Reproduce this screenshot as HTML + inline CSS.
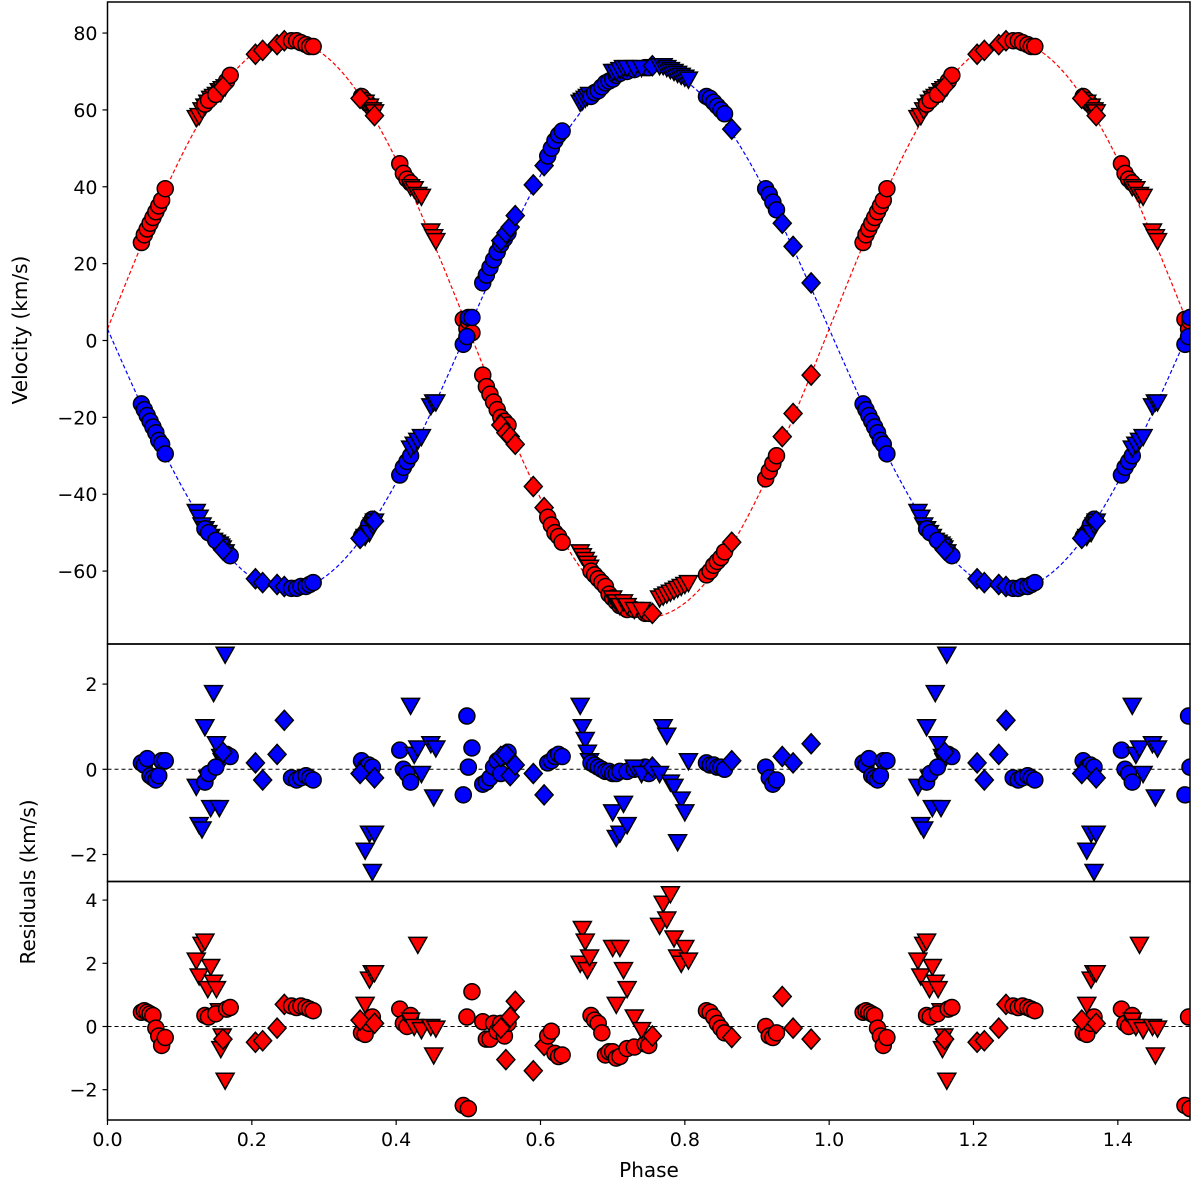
<!DOCTYPE html>
<html><head><meta charset="utf-8"><style>
html,body{margin:0;padding:0;background:#fff;}
svg{display:block;font-family:"DejaVu Sans","Liberation Sans",sans-serif;}
</style></head><body>
<svg id="chart" width="1200" height="1192" viewBox="0 0 1200 1192"></svg>
<script>
// ---- data ----
const markerKinds = ['circle','triangle','diamond'];
const redPhase = [0.047,0.051,0.055,0.059,0.063,0.067,0.071,0.075,0.08,
0.123,0.127,0.131,0.135,0.139,0.143,0.147,0.151,0.155,0.159,0.163,0.157,
0.135,0.14,0.15,0.165,0.17,
0.16,0.205,0.215,0.235,0.245,
0.255,0.262,0.268,0.275,0.28,0.285,
0.352,0.357,0.362,0.367,
0.357,0.363,0.367,0.37,
0.35,0.37,
0.405,0.41,0.415,0.42,
0.42,0.425,0.43,0.435,0.448,0.452,0.455,
0.493,0.498,0.5,0.505,
0.52,0.525,0.53,0.535,0.54,0.545,0.55,0.555,
0.545,0.552,0.558,0.565,0.59,0.605,
0.61,0.615,0.62,0.625,0.63,
0.655,0.658,0.662,0.665,0.668,
0.67,0.675,0.68,0.685,0.69,0.695,0.70,0.705,0.71,0.72,0.73,0.745,0.75,
0.7,0.705,0.71,0.715,0.72,0.73,0.74,
0.755,
0.765,0.77,0.775,0.78,0.785,0.79,0.795,0.80,0.805,
0.83,0.835,0.84,0.845,0.85,0.855,
0.865,
0.912,0.917,0.922,0.927,
0.935,0.95,0.975];
const redVel = [25.5,27.5,29,30.5,32,33.5,35,36.5,39.5,
58,58.5,60,61,62,63,63.5,64,65,65.5,66,64.5,
61.5,62.5,64,67.5,69,
66,74.5,75.5,77,78,
78,78,77.5,77,76.5,76.5,
63.5,62.5,61.5,60.5,
62,61,60,59.5,
63,58.5,
46,43.5,42,41,
40,39.5,38,37.5,28.5,27,26,
5.5,3,5,2,
-9,-12,-14,-16,-18,-20,-21,-22,
-22,-24,-25,-27,-38,-43.5,
-46,-48,-50,-51,-52.5,
-55,-56,-57,-58,-59,
-60,-61,-62,-63,-64,-66,-67,-68,-69,-70,-70,-71,-71,
-67,-68,-69,-68,-69,-70,-70,
-71,
-67,-66.5,-66,-65.5,-65,-64.5,-64,-63.5,-63,
-61,-60,-58.5,-57.5,-56.5,-55,
-52.5,
-36,-34,-32,-30,
-25,-19,-9];
const redRes = [0.45,0.5,0.45,0.4,0.35,-0.05,-0.3,-0.6,-0.35,
2.1,1.6,2.6,2.7,1.2,1.9,1.4,1.2,0.5,-0.3,-1.7,-0.7,
0.35,0.3,0.4,0.55,0.6,
-0.4,-0.5,-0.45,-0.05,0.7,
0.65,0.6,0.65,0.6,0.55,0.5,
-0.2,-0.25,0.1,0.3,
0.7,1.5,1.7,1.7,
0.2,0.1,
0.55,0.1,0,0.35,
0.2,0,2.6,-0.1,0,-0.9,-0.05,
-2.5,0.3,-2.6,1.1,
0.15,-0.4,-0.4,0.1,-0.15,0.1,-0.3,0.1,
-0.05,-1.05,0.3,0.8,-1.4,-0.6,
-0.3,-0.15,-0.85,-0.95,-0.9,
2.0,3.1,2.7,1.8,2.2,
0.35,0.2,0.1,-0.2,-0.9,-0.8,-0.8,-1.0,-0.95,-0.7,-0.65,-0.55,-0.6,
2.5,0.7,2.5,1.8,1.2,0.3,-0.1,
-0.3,
3.2,3.9,3.4,4.2,2.8,2.2,2.0,2.5,2.1,
0.5,0.45,0.3,0.1,-0.05,-0.2,
-0.35,
0,-0.3,-0.35,-0.2,
0.95,-0.05,-0.4];
const redMark = [0,0,0,0,0,0,0,0,0,
1,1,1,1,1,1,1,1,1,1,1,1,
0,0,0,0,0,
2,2,2,2,2,
0,0,0,0,0,0,
0,0,0,0,
1,1,1,1,
2,2,
0,0,0,0,
1,1,1,1,1,1,1,
0,0,0,0,
0,0,0,0,0,0,0,0,
2,2,2,2,2,2,
0,0,0,0,0,
1,1,1,1,1,
0,0,0,0,0,0,0,0,0,0,0,0,0,
1,1,1,1,1,1,1,
2,
1,1,1,1,1,1,1,1,1,
0,0,0,0,0,0,
2,
0,0,0,0,
2,2,2];

const bluePhase = redPhase.slice();
const blueVel = [-16.5,-18,-19.5,-21,-22.5,-24,-26,-27,-29.5,
-44.5,-46,-48,-49,-50,-51,-52,-52.5,-53,-54,-55,-53.5,
-49,-50,-52,-55,-56,
-54.5,-62,-63,-63.5,-64,
-64.5,-64.5,-64,-64,-63.5,-63,
-51,-50,-48,-46.5,
-51,-50,-48,-47,
-51.5,-47,
-35,-33,-31.5,-30,
-28,-27,-26,-25,-17,-16,-16,
-1,1,6,6,
15,17,19,21,23,25,26.5,28,
26,28,29.5,32.5,40.5,45.5,
48,50,52,53.5,54.5,
62,62.5,63,63.5,64,
63.5,64.5,65,66,67,67.5,68,69,69.5,70,70.5,71,71,
70,70,70.5,71,71,71,71,
71.5,
71.5,71.5,71,70.5,70,69.5,69,68.5,68,
63.5,63,62,61,60,59,
55,
39.5,38,36,34,
30.5,24.5,15];
const blueRes = [0.15,0.1,0.25,-0.15,-0.2,-0.25,-0.15,0.2,0.2,
-0.4,-1.3,-1.4,1.0,-0.2,-0.9,1.8,0.6,-0.9,0.2,2.7,0.3,
-0.3,-0.1,0.05,0.35,0.3,
0.4,0.15,-0.25,0.35,1.15,
-0.2,-0.25,-0.2,-0.15,-0.2,-0.25,
0.2,0.05,0.1,0.05,
-1.9,-1.5,-2.4,-1.5,
-0.1,-0.2,
0.45,0,-0.1,-0.3,
1.5,0.35,0.5,-0.1,0.6,-0.65,0.5,
-0.6,1.25,0.05,0.5,
-0.35,-0.3,-0.2,0.05,0.2,-0.1,0.35,0.4,
0.3,0.35,-0.15,0.1,-0.1,-0.6,
0.15,0.2,0.3,0.35,0.3,
1.5,1.0,0.7,0.4,0.2,
0.15,0.1,0.05,0,-0.05,-0.05,-0.1,-0.1,-0.05,-0.05,0,0.05,-0.1,
-1.0,-1.6,-1.5,-0.8,-1.3,0.05,-0.1,
0.05,
-0.1,1.0,0.8,-0.3,-0.4,-1.7,-0.7,-1.0,0.2,
0.15,0.1,0.1,0.05,0.05,0,
0.2,
0.05,-0.2,-0.35,-0.25,
0.3,0.15,0.6];
const blueMark = redMark.slice();

const xTicks = [0.0,0.2,0.4,0.6,0.8,1.0,1.2,1.4];
const xTickLabels = ['0.0','0.2','0.4','0.6','0.8','1.0','1.2','1.4'];
const velTicks = [-60,-40,-20,0,20,40,60,80];
const res1Ticks = [-2,0,2];
const res2Ticks = [-2,0,2,4];
// model parameters
const gamma = 3, K1 = 75, K2 = 68;

// ---- layout ----
const NS = 'http://www.w3.org/2000/svg';
const svg = document.getElementById('chart');
const L = 107.5, R = 1190;
const xs = p => L + (p - 0) / 1.5 * (R - L);
const P1 = {top: 2, bot: 644, y: v => 340.5 - v * 3.843};
const P2 = {top: 644, bot: 881.5, y: v => 769.3 - v * 42.6};
const P3 = {top: 881.5, bot: 1120, y: v => 1026.5 - v * 31.6};
const panels = [P1, P2, P3];

function mk(tag, attrs, parent) {
  const e = document.createElementNS(NS, tag);
  for (const k in attrs) e.setAttribute(k, attrs[k]);
  (parent || svg).appendChild(e);
  return e;
}
const defs = mk('defs', {});
panels.forEach((p, i) => {
  const cp = mk('clipPath', {id: 'clip' + i}, defs);
  mk('rect', {x: L, y: p.top, width: R - L, height: p.bot - p.top}, cp);
});

function marker(g, kind, cx, cy, fill) {
  let e;
  if (kind === 0) e = mk('circle', {cx: cx, cy: cy, r: 8}, g);
  else if (kind === 1) e = mk('polygon', {points: `${cx-9},${cy-7} ${cx+9},${cy-7} ${cx},${cy+9}`}, g);
  else e = mk('polygon', {points: `${cx},${cy-10} ${cx+9},${cy} ${cx},${cy+10} ${cx-9},${cy}`}, g);
  e.setAttribute('fill', fill);
  e.setAttribute('stroke', '#000');
  e.setAttribute('stroke-width', '1.5');
  
  
}

[P2, P3].forEach((p, i) => {
  const l = mk('line', {x1: L, x2: R, y1: p.y(0), y2: p.y(0), stroke: '#000', 'stroke-width': 1, 'stroke-dasharray': '4,3'});
  
  
});

function modelPath(sign, K) {
  let d = '';
  for (let i = 0; i <= 300; i++) {
    const p = i / 200;
    const v = gamma + sign * K * Math.sin(2 * Math.PI * p);
    d += (i ? 'L' : 'M') + xs(p).toFixed(2) + ',' + P1.y(v).toFixed(2);
  }
  return d;
}
const g1 = mk('g', {'clip-path': 'url(#clip0)'});


const rc = mk('path', {d: modelPath(1, K1), fill: 'none', stroke: 'red', 'stroke-width': 1.2, 'stroke-dasharray': '4,2.5'}, g1);


const bc = mk('path', {d: modelPath(-1, K2), fill: 'none', stroke: 'blue', 'stroke-width': 1.2, 'stroke-dasharray': '4,2.5'}, g1);



const g2 = mk('g', {'clip-path': 'url(#clip1)'});


const g3 = mk('g', {'clip-path': 'url(#clip2)'});



function plotStar(ph, vel, res, mkr, color, gRes) {
  for (let i = 0; i < ph.length; i++) {
    const phases = [ph[i]];
    if (ph[i] + 1 <= 1.5) phases.push(ph[i] + 1);
    phases.forEach(p => {
      marker(g1, mkr[i], xs(p), P1.y(vel[i]), color);
      marker(gRes, mkr[i], xs(p), (gRes === g2 ? P2 : P3).y(res[i]), color);
    });
  }
}
plotStar(redPhase, redVel, redRes, redMark, 'red', g3);
plotStar(bluePhase, blueVel, blueRes, blueMark, 'blue', g2);

panels.forEach((p, i) => {
  const r = mk('rect', {x: L, y: p.top, width: R - L, height: p.bot - p.top, fill: 'none', stroke: '#000', 'stroke-width': 1.5});
  
  
});

function yTicks(p, ticks, name) {
  ticks.forEach(t => {
    const y = p.y(t);
    mk('line', {x1: L - 5, x2: L, y1: y, y2: y, stroke: '#000', 'stroke-width': 1.2});
    const tx = mk('text', {x: L - 10, y: y + 7, 'text-anchor': 'end', 'font-size': 19, fill: '#000'});
    tx.textContent = t < 0 ? '\u2212' + Math.abs(t) : String(t);
    
    
  });
}
yTicks(P1, velTicks, 'velocity');
yTicks(P2, res1Ticks, 'secondary-residual');
yTicks(P3, res2Ticks, 'primary-residual');

xTicks.forEach(t => {
  mk('line', {x1: xs(t), x2: xs(t), y1: 1120, y2: 1125, stroke: '#000', 'stroke-width': 1.2});
});
xTicks.forEach((t, i) => {
  const tx = mk('text', {x: xs(t), y: 1146, 'text-anchor': 'middle', 'font-size': 19, fill: '#000'});
  tx.textContent = xTickLabels[i];
  
  
});

const xt = mk('text', {x: 649, y: 1177, 'text-anchor': 'middle', 'font-size': 20, fill: '#000'});
xt.textContent = 'Phase';


const yt1 = mk('text', {x: 0, y: 0, 'text-anchor': 'middle', 'font-size': 20, fill: '#000', transform: 'translate(27,330) rotate(-90)'});
yt1.textContent = 'Velocity (km/s)';


const yt2 = mk('text', {x: 0, y: 0, 'text-anchor': 'middle', 'font-size': 20, fill: '#000', transform: 'translate(35,882) rotate(-90)'});
yt2.textContent = 'Residuals (km/s)';


</script>
</body></html>
